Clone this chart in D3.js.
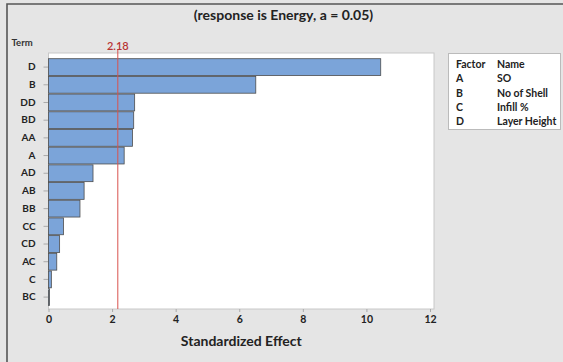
<!DOCTYPE html>
<html>
<head>
<meta charset="utf-8">
<script src="https://cdn.jsdelivr.net/npm/d3@7"></script>
<style>
  body { margin: 0; background: #e5e5e5; }
  svg { display: block; font-family: Lato, "Open Sans", sans-serif; }
</style>
</head>
<body>
<svg></svg>
<script>
const w = 563;
const h = 362;

// pareto of standardized effects
const terms = ["D", "B", "DD", "BD", "AA", "A", "AD", "AB", "BB", "CC", "CD", "AC", "C", "BC"];
const effects = [10.45, 6.52, 2.71, 2.68, 2.64, 2.38, 1.40, 1.12, 0.99, 0.47, 0.35, 0.26, 0.09, 0.03];
const critical = 2.18;
const xTicks = [0, 2, 4, 6, 8, 10, 12];

const factorCodes = ["A", "B", "C", "D"];
const factorNames = ["SO", "No of Shell", "Infill %", "Layer Height"];

const plot = { left: 48.5, right: 434, top: 53, bottom: 309 };

let svg = d3.select("svg")
    .attr("width", w)
    .attr("height", h);

svg.append("rect")
   .attr("width", w)
   .attr("height", h)
   .attr("fill", "#e5e5e5");

// outer frame (top + left only visible)
svg.append("path")
   .attr("d", `M7,${h} L7,4 L${w},4`)
   .attr("fill", "none")
   .attr("stroke", "#555")
   .attr("stroke-width", 1.6);

let xScale = d3.scaleLinear()
    .domain([0, 12])
    .range([plot.left, 430]);

let yScale = d3.scaleBand()
    .domain(terms)
    .range([58.7, 305.5])
    .paddingInner(0.05);

svg.append("rect")
   .attr("x", plot.left)
   .attr("y", plot.top)
   .attr("width", plot.right - plot.left)
   .attr("height", plot.bottom - plot.top)
   .attr("fill", "white")
   .attr("stroke", "#c8c8c8");

svg.append("text")
   .attr("x", 283.5)
   .attr("y", 20)
   .attr("text-anchor", "middle")
   .attr("font-size", 14)
   .attr("font-weight", "bold")
   .attr("fill", "#222")
   .text("(response is Energy, a  =  0.05)");

svg.append("text")
   .attr("x", 11.5)
   .attr("y", 46)
   .attr("font-size", 9.5)
   .attr("font-weight", "bold")
   .attr("fill", "#333")
   .text("Term");

// y axis
let yAxis = d3.axisLeft(yScale).tickSize(5).tickPadding(8);
let gy = svg.append("g")
   .attr("transform", `translate(${plot.left}, 0)`)
   .call(yAxis);
gy.select(".domain").remove();
gy.selectAll(".tick line").attr("stroke", "#aaa");
gy.selectAll(".tick text")
  .attr("font-size", 10)
  .attr("font-weight", "bold")
  .attr("fill", "#222")
  .attr("font-family", "Lato, sans-serif");

// x axis
let xAxis = d3.axisBottom(xScale).tickValues(xTicks).tickSize(3).tickPadding(4);
let gx = svg.append("g")
   .attr("transform", `translate(0, ${plot.bottom})`)
   .call(xAxis);
gx.select(".domain").remove();
gx.selectAll(".tick line").attr("stroke", "#aaa");
gx.selectAll(".tick text")
  .attr("font-size", 10.5)
  .attr("font-weight", "bold")
  .attr("fill", "#222")
  .attr("font-family", "Lato, sans-serif");

svg.append("text")
   .attr("x", (plot.left + plot.right) / 2)
   .attr("y", 346)
   .attr("text-anchor", "middle")
   .attr("font-size", 14)
   .attr("font-weight", "bold")
   .attr("fill", "#222")
   .text("Standardized Effect");

svg.selectAll("rect.bar")
   .data(terms)
   .enter()
   .append("rect")
   .attr("class", "bar")
   .attr("x", xScale(0))
   .attr("y", d => yScale(d))
   .attr("width", (d, i) => xScale(effects[i]) - xScale(0))
   .attr("height", yScale.bandwidth())
   .attr("fill", "#7ba4d9")
   .attr("stroke", "#4d4d4d")
   .attr("stroke-width", 0.8);

// reference line
svg.append("line")
   .attr("x1", xScale(critical))
   .attr("x2", xScale(critical))
   .attr("y1", plot.top - 4)
   .attr("y2", plot.bottom)
   .attr("stroke", "#d9534f")
   .attr("stroke-width", 1);

svg.append("text")
   .attr("x", xScale(critical))
   .attr("y", 50)
   .attr("text-anchor", "middle")
   .attr("font-size", 11)
   .attr("font-weight", 600)
   .attr("fill", "#b83232")
   .text(critical.toFixed(2));

// factor legend
let legend = svg.append("g");
legend.append("rect")
   .attr("x", 448.5)
   .attr("y", 53.5)
   .attr("width", 112)
   .attr("height", 76)
   .attr("fill", "white")
   .attr("stroke", "#bbb");

const rowY = d3.scaleLinear().domain([0, 4]).range([68, 125]);

legend.append("text")
   .attr("x", 456).attr("y", rowY(0))
   .attr("font-size", 10.5).attr("font-weight", "bold").attr("fill", "#222")
   .text("Factor");
legend.append("text")
   .attr("x", 497).attr("y", rowY(0))
   .attr("font-size", 10.5).attr("font-weight", "bold").attr("fill", "#222")
   .text("Name");

factorCodes.forEach((c, i) => {
    legend.append("text")
       .attr("x", 456).attr("y", rowY(i + 1))
       .attr("font-size", 10.5).attr("font-weight", "bold").attr("fill", "#222")
       .text(c);
    legend.append("text")
       .attr("x", 497).attr("y", rowY(i + 1))
       .attr("font-size", 10.5).attr("font-weight", "bold").attr("fill", "#222")
       .text(factorNames[i]);
});
</script>
</body>
</html>
